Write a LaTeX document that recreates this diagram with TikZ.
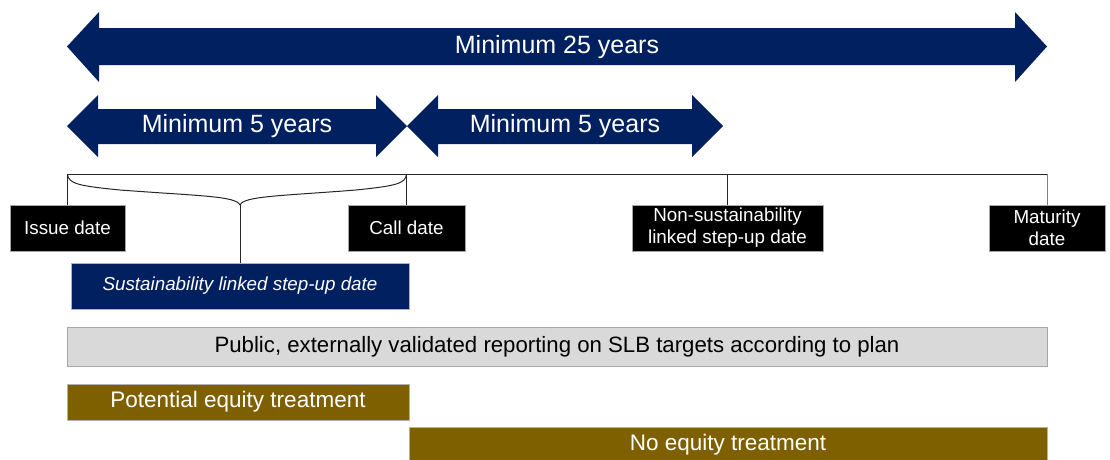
\documentclass[tikz,border=0pt]{standalone}
\usepackage{fontspec}
\setmainfont{Liberation Sans}
\definecolor{navy}{HTML}{002060}
\definecolor{olive}{HTML}{7F6000}
\definecolor{barfill}{HTML}{D9D9D9}
\definecolor{barline}{HTML}{A6A6A6}
\tikzset{
  span/.style={fill=navy, draw=none},
  spantext/.style={text=white, font=\fontsize{25}{28}\selectfont, inner sep=0pt},
  datebox/.style={fill=black, draw=gray!70, line width=0.6pt, text=white, inner sep=0pt,
    align=center, minimum height=46pt, font=\fontsize{18.8}{22}\selectfont},
  stepbox/.style={fill=navy, draw=gray!60, line width=0.6pt, text=white, inner sep=0pt,
    minimum height=46pt, font=\fontsize{18.8}{22}\selectfont\itshape},
  greybar/.style={fill=barfill, draw=barline, line width=1pt, inner sep=0pt,
    minimum height=39pt, font=\fontsize{22.2}{26}\selectfont},
  equitybar/.style={fill=olive, draw=gray!60, line width=0.8pt, text=white, inner sep=0pt,
    minimum height=36pt, font=\fontsize{22.5}{26}\selectfont},
  tick/.style={draw=black!85, line width=1pt},
}
\begin{document}
\begin{tikzpicture}[x=1pt, y=-1pt]
\useasboundingbox (0,0) rectangle (1110,459);
\clip (0,0) rectangle (1110,459);

% overall span: minimum 25 years
\fill[span] (67,46.5) -- (99,12) -- (99,28) -- (1015,28) -- (1015,12) -- (1047,46.5)
  -- (1015,82) -- (1015,65) -- (99,65) -- (99,82) -- cycle;
\node[spantext] (span25) at (557,47) {Minimum 25 years};

% first and second five-year spans
\fill[span] (67,126) -- (98,95) -- (98,109) -- (376,109) -- (376,95) -- (407,126)
  -- (376,157) -- (376,144) -- (98,144) -- (98,157) -- cycle;
\node[spantext] (spanA) at (237,126.5) {Minimum 5 years};
\fill[span] (407,126) -- (438,95) -- (438,109) -- (692,109) -- (692,95) -- (723,126)
  -- (692,157) -- (692,144) -- (438,144) -- (438,157) -- cycle;
\node[spantext] (spanB) at (565,126.5) {Minimum 5 years};

% timeline points
\coordinate (tIssue) at (67.5,174);
\coordinate (tCall) at (406.5,174);
\coordinate (tNon) at (727.5,174);
\coordinate (tMat) at (1047,174);
\coordinate (cusp) at (240,205);

% date boxes
\node[datebox, minimum width=115pt] (issue) at (67.5,228) {Issue date};
\node[datebox, minimum width=117pt] (call) at (406.5,228) {Call date};
\node[datebox, minimum width=191pt] (nonsl) at (727.5,228) {Non-sustainability\\linked step-up date};
\node[datebox, minimum width=116pt] (mat) at (1047,228) {Maturity\\date};
\node[stepbox, minimum width=338pt] (sust) at (240,286) {Sustainability linked step-up date};

% timeline and ticks
\draw[tick] (tIssue) -- (tMat);
\draw[tick] (issue.north) -- (tIssue);
\draw[tick] (call.north) -- (tCall);
\draw[tick] (nonsl.north) -- (tNon);
\draw[tick, draw=gray] (mat.north) -- (tMat);

% brace between issue and call dates
\draw[tick] (tIssue) .. controls (68,184) and (80,186) .. (120,190)
  .. controls (200,196) and (236,196) .. (cusp);
\draw[tick] (tCall) .. controls (406,184) and (394,186) .. (356,190)
  .. controls (280,196) and (244,196) .. (cusp);
\draw[tick] (sust.north) -- (cusp);

% bars
\node[greybar, minimum width=980pt] (report) at (557,346.5)
  {Public, externally validated reporting on SLB targets according to plan};
\node[equitybar, minimum width=342pt] (poteq) at (238,402) {Potential equity treatment};
\node[equitybar, minimum width=638pt] (noeq) at (728,445) {No equity treatment};
\end{tikzpicture}
\end{document}
